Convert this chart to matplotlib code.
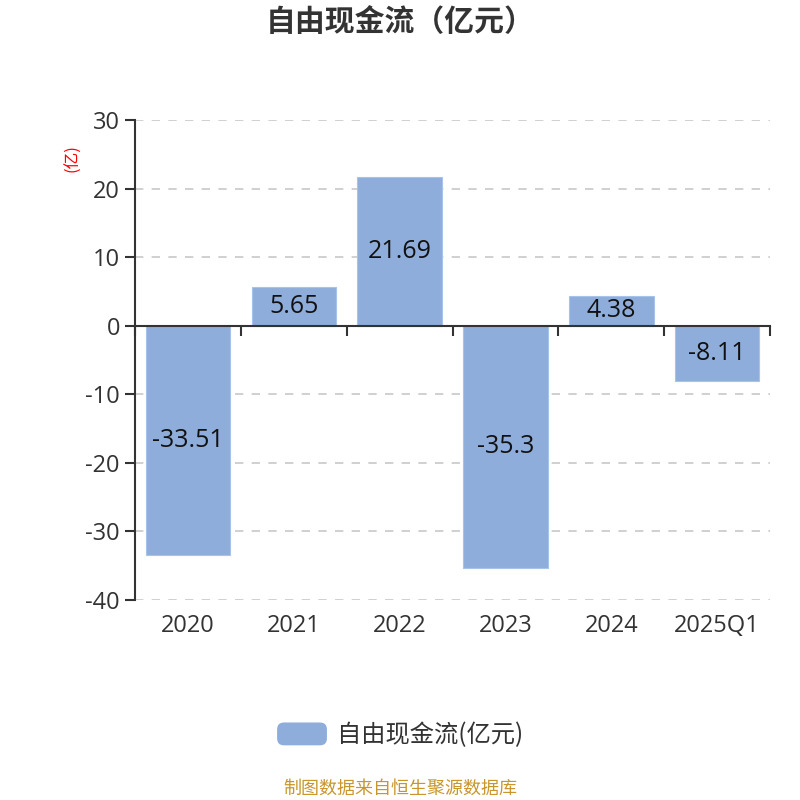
import matplotlib
matplotlib.use("Agg")
import matplotlib.pyplot as plt
from matplotlib.patches import FancyBboxPatch
from matplotlib.legend_handler import HandlerPatch
import matplotlib.transforms as mtransforms
import numpy as np

plt.rcParams['font.family'] = ['Open Sans', 'Noto Sans CJK SC', 'DejaVu Sans']

categories = ["2020", "2021", "2022", "2023", "2024", "2025Q1"]
values = [-33.51, 5.65, 21.69, -35.3, 4.38, -8.11]
value_labels = ["-33.51", "5.65", "21.69", "-35.3", "4.38", "-8.11"]
yticks = [-40, -30, -20, -10, 0, 10, 20, 30]
series_name = "自由现金流(亿元)"
title = "自由现金流（亿元）"
unit = "(亿)"
source = "制图数据来自恒生聚源数据库"

bar_color = "#8EADDB"
text_color = "#333333"
cjk = ['Noto Sans CJK SC', 'DejaVu Sans']

fig = plt.figure(figsize=(8, 8), dpi=100)
ax = fig.add_axes([0.169, 0.25, 0.7935, 0.60])

x = np.arange(len(categories))
bars = ax.bar(x, values, width=0.8, color=bar_color, edgecolor="#a8c3ea", linewidth=0.8,
              zorder=3, label=series_name)

ax.set_xlim(-0.5, len(categories) - 0.5)
ax.set_ylim(-40, 30)
ax.set_yticks(yticks)
ax.set_yticklabels([str(t) for t in yticks], fontsize=17, color=text_color)
ax.tick_params(axis='y', length=7, width=1.5, color=text_color, pad=4)

for t in yticks:
    if t != 0:
        ax.axhline(t, color="#c8c8c8", linestyle=(0, (5, 5)), linewidth=1.2, zorder=1)

for s in ['top', 'right']:
    ax.spines[s].set_visible(False)
ax.spines['left'].set_color(text_color)
ax.spines['left'].set_linewidth(1.5)
ax.spines['bottom'].set_position(('data', 0))
ax.spines['bottom'].set_color(text_color)
ax.spines['bottom'].set_linewidth(1.5)
ax.spines['bottom'].set_zorder(4)

ax.set_xticks(x)
ax.set_xticklabels([])
ax.tick_params(axis='x', which='major', length=0)
ax.set_xticks(np.arange(len(categories) + 1) - 0.5, minor=True)
ax.tick_params(axis='x', which='minor', length=7, width=1.5, color=text_color, direction='out')

trans = mtransforms.blended_transform_factory(ax.transData, ax.transAxes)
for xi, c in zip(x, categories):
    ax.text(xi, -0.055, c, transform=trans, ha='center', va='center', fontsize=17, color=text_color)

for b, v, lab in zip(bars, values, value_labels):
    ax.text(b.get_x() + b.get_width() / 2, v / 2, lab, ha='center', va='center',
            fontsize=18, color="#111111", zorder=5)

fig.text(0.5, 0.972, title, ha='center', va='center', fontsize=21.5, fontweight='bold',
         color=text_color, family=cjk)
fig.text(0.091, 0.803, unit, ha='center', va='center', fontsize=12, color='red',
         rotation=90, family=cjk)

class HandlerRound(HandlerPatch):
    def create_artists(self, legend, orig_handle, xdescent, ydescent, width, height, fontsize, trans):
        p = FancyBboxPatch((-xdescent, -ydescent), width, height,
                           boxstyle="round,pad=0,rounding_size=5",
                           facecolor=bar_color, edgecolor='none', transform=trans)
        return [p]

leg = fig.legend(handles=[bars.patches[0]], labels=[series_name], loc='center',
                 bbox_to_anchor=(0.5, 0.081), frameon=False,
                 prop={'family': cjk, 'size': 17.5},
                 handlelength=2.05, handleheight=1.07, handletextpad=0.4,
                 handler_map={bars.patches[0].__class__: HandlerRound()})
for t in leg.get_texts():
    t.set_color(text_color)

fig.text(0.5, 0.014, source, ha='center', va='center', fontsize=13, color="#C8962A", family=cjk)

fig.savefig("out.png", dpi=100)
